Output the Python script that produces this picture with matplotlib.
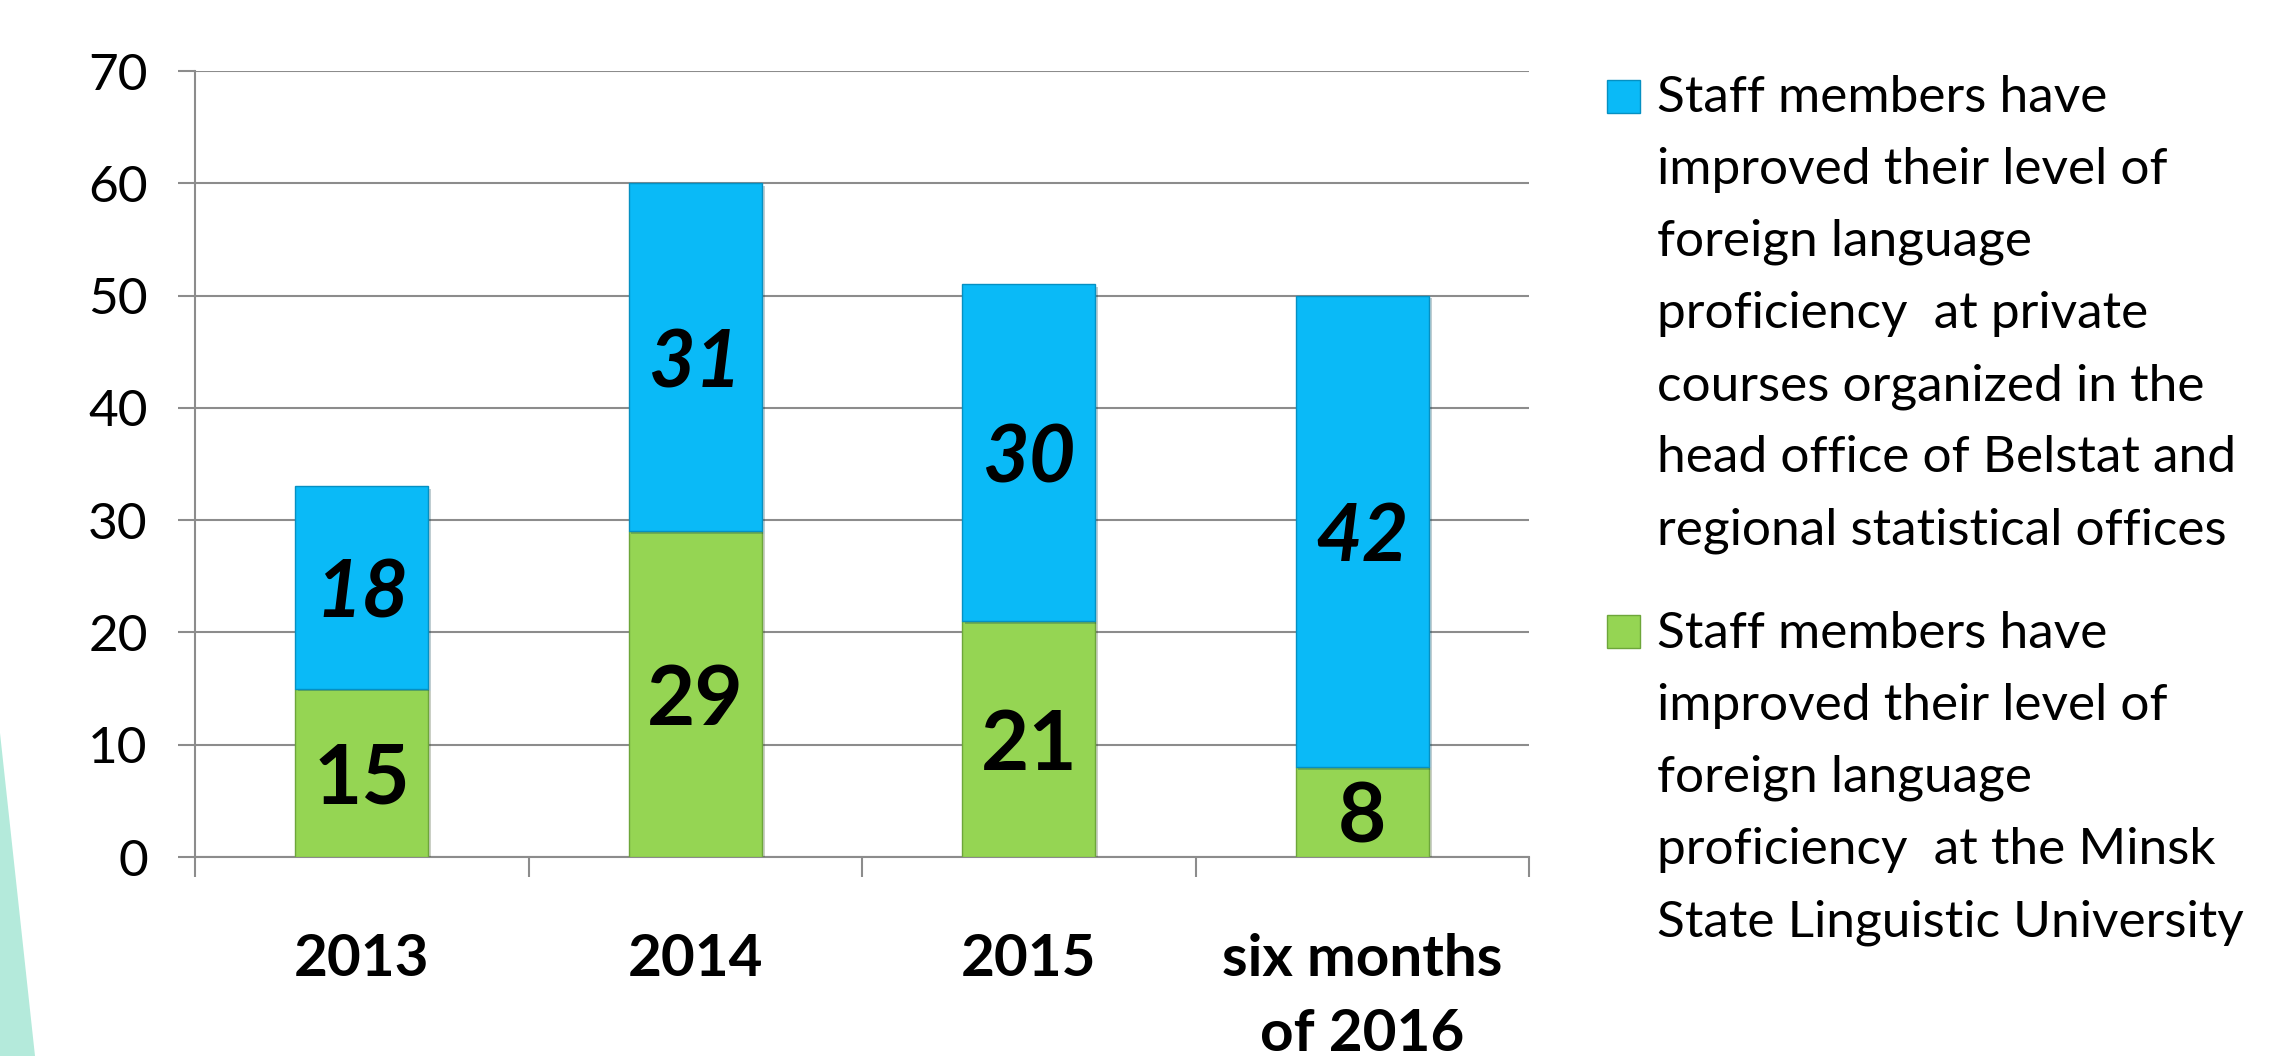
import matplotlib
matplotlib.use('Agg')
import matplotlib.pyplot as plt
import matplotlib.patheffects as pe
from matplotlib.patches import Polygon, Rectangle

# data
categories = ['2013', '2014', '2015', 'six months\nof 2016']
msl_university = [15, 29, 21, 8]
private_courses = [18, 31, 30, 42]
series_names = [
    'Staff members have\nimproved their level of\nforeign language\n'
    'proficiency  at private\ncourses organized in the\n'
    'head office of Belstat and\nregional statistical offices',
    'Staff members have\nimproved their level of\nforeign language\n'
    'proficiency  at the Minsk\nState Linguistic University',
]
yticks = [0, 10, 20, 30, 40, 50, 60, 70]

blue = '#0ABAF7'
green = '#95D553'
blue_edge = '#0590C2'
green_edge = '#6DA63A'
grey = '#8C8C8C'

plt.rcParams['font.family'] = ['Lato', 'DejaVu Sans']

W, H = 2270, 1056
fig = plt.figure(figsize=(W / 100, H / 100), dpi=100)

# teal sliver on the left edge of the slide
fig.add_artist(Polygon([(0, 1 - 733 / H), (35 / W, 0), (0, 0)], closed=True,
                       transform=fig.transFigure, facecolor='#B4EADB',
                       edgecolor='none'))

ax = fig.add_axes([195 / W, 1 - 857 / H, (1529 - 195) / W, (857 - 71) / H])

x = list(range(len(categories)))
shadow = [pe.SimplePatchShadow(offset=(2, -2), alpha=0.25), pe.Normal()]
b1 = ax.bar(x, msl_university, 0.4, color=green, edgecolor=green_edge,
            linewidth=1, zorder=3, path_effects=shadow)
b2 = ax.bar(x, private_courses, 0.4, bottom=msl_university, color=blue,
            edgecolor=blue_edge, linewidth=1, zorder=3, path_effects=shadow)

# value labels in the middle of each segment
for i in x:
    ax.text(i, msl_university[i] / 2, str(msl_university[i]), ha='center',
            va='center_baseline', fontsize=60, fontweight='bold', zorder=5)
    ax.text(i, msl_university[i] + private_courses[i] / 2,
            str(private_courses[i]), ha='center', va='center_baseline',
            fontsize=58, fontweight='bold', fontstyle='italic', zorder=5)

ax.set_xlim(-0.5, len(categories) - 0.5)
ax.set_ylim(0, 70)
ax.set_yticks(yticks)
ax.yaxis.grid(True, color=grey, linewidth=1.5)
ax.set_axisbelow(True)

ax.set_xticks(x, categories, fontsize=42, fontweight='bold', linespacing=1.5)
ax.set_xticks([i - 0.5 for i in range(len(categories) + 1)], minor=True)
ax.tick_params(axis='x', which='major', length=0, pad=55)
ax.tick_params(axis='x', which='minor', length=14.4, width=1.5, color=grey)
ax.tick_params(axis='y', length=12, width=1.5, color=grey, labelsize=37,
               pad=22)

for s in ['top', 'right']:
    ax.spines[s].set_visible(False)
for s in ['left', 'bottom']:
    ax.spines[s].set_color(grey)
    ax.spines[s].set_linewidth(1.5)

# legend drawn by hand so the marker sits on the first line
for name, c, ec, mtop, ttop in zip(series_names, [blue, green],
                                   [blue_edge, green_edge], [80, 615], [75, 611]):
    fig.add_artist(Rectangle((1607 / W, 1 - (mtop + 33) / H), 33 / W, 33 / H,
                             transform=fig.transFigure, facecolor=c,
                             edgecolor=ec, linewidth=1))
    fig.text(1657 / W, 1 - ttop / H, name, fontsize=37, va='top', ha='left',
             linespacing=1.7)

fig.savefig('out.png', dpi=100)
